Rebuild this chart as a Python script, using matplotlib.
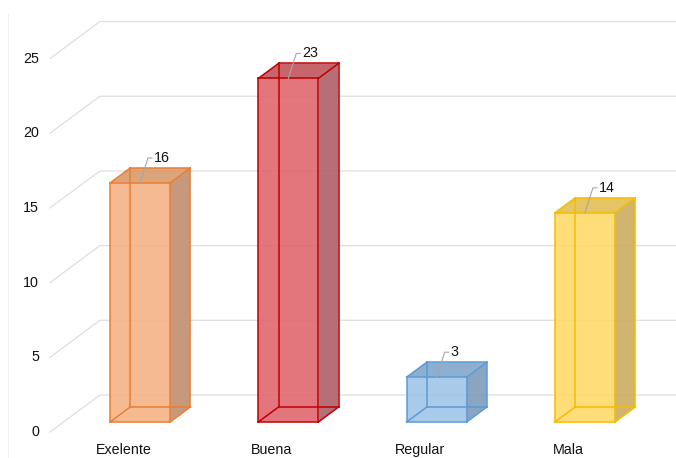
import matplotlib
matplotlib.use("Agg")
import matplotlib.pyplot as plt
from matplotlib.lines import Line2D
from matplotlib.patches import Polygon
from matplotlib.transforms import IdentityTransform

categories = ["Exelente", "Buena", "Regular", "Mala"]
counts = [16, 23, 3, 14]
y_ticks = [0, 5, 10, 15, 20, 25]

face_colors = ["#F4B183", "#E0636B", "#9DC3E6", "#FFD966"]
edge_colors = ["#ED7D31", "#C00000", "#5B9BD5", "#F5BC00"]
side_colors = ["#C29172", "#B0636A", "#7F9DBC", "#CBAF63"]
top_colors = ["#D99C70", "#C3585F", "#85A8CB", "#E2BF57"]

plt.rcParams["font.family"] = ["Liberation Sans", "DejaVu Sans"]

fig = plt.figure(figsize=(6.76, 4.58), dpi=100)
ax = fig.add_axes([0, 0, 1, 1])
ax.set_xlim(-0.944, 3.614)
ax.set_ylim(-2.41, 28.25)
ax.axis("off")

# oblique depth: pixels right per pixel up
SLOPE = 1.35
FLOOR_FRONT = -10
BAR_FRONT = 0
BAR_BACK = 15
WALL_BACK = 27
WALL_X = -0.516
BAR_W = 0.405
PIX = IdentityTransform()


def proj(x, y, d):
    px, py = ax.transData.transform((x, y))
    return (px + SLOPE * d, py + d)


# side wall diagonals + back wall gridlines
grid_color = "#DEDEDE"
for t in y_ticks:
    a = proj(WALL_X, t, FLOOR_FRONT)
    b = proj(WALL_X, t, WALL_BACK)
    c = proj(ax.get_xlim()[1], t, WALL_BACK)
    ax.add_line(Line2D([a[0], b[0], c[0]], [a[1], b[1], c[1]],
                       color=grid_color, lw=0.9, transform=PIX, zorder=1))
    ax.text(a[0] - 11, a[1], str(t), ha="right", va="center",
            fontsize=10.3, color="#111111", transform=PIX)

# faint frame line on the left
fig.add_artist(Line2D([8 / 676, 8 / 676], [0, 0.97], transform=fig.transFigure,
                      color="#F0F0F0", lw=0.8))

for i, (name, v) in enumerate(zip(categories, counts)):
    x0, x1 = i - BAR_W / 2, i + BAR_W / 2
    corners = {}
    for xk, xv in (("l", x0), ("r", x1)):
        for yk, yv in (("b", 0), ("t", v)):
            for dk, dv in (("f", BAR_FRONT), ("k", BAR_BACK)):
                corners[xk + yk + dk] = proj(xv, yv, dv)

    front = [corners[k] for k in ("lbf", "rbf", "rtf", "ltf")]
    side = [corners[k] for k in ("rbf", "rbk", "rtk", "rtf")]
    top = [corners[k] for k in ("ltf", "rtf", "rtk", "ltk")]
    ax.add_patch(Polygon(front, closed=True, fc=face_colors[i], alpha=0.88,
                         ec="none", transform=PIX, zorder=2))
    ax.add_patch(Polygon(side, closed=True, fc=side_colors[i], alpha=0.92,
                         ec="none", transform=PIX, zorder=2))
    ax.add_patch(Polygon(top, closed=True, fc=top_colors[i], alpha=0.92,
                         ec="none", transform=PIX, zorder=2))

    edges = [("lbf", "rbf"), ("rbf", "rtf"), ("rtf", "ltf"), ("ltf", "lbf"),
             ("lbk", "rbk"), ("rbk", "rtk"), ("rtk", "ltk"), ("ltk", "lbk"),
             ("lbf", "lbk"), ("rbf", "rbk"), ("rtf", "rtk"), ("ltf", "ltk")]
    for p, q in edges:
        ax.add_line(Line2D([corners[p][0], corners[q][0]],
                           [corners[p][1], corners[q][1]],
                           color=edge_colors[i], lw=1.1, transform=PIX, zorder=3))

    # value label with leader line
    s = proj(i, v, BAR_FRONT)
    e = (s[0] + 8, s[1] + 25)
    f = (e[0] + 4, e[1])
    ax.add_line(Line2D([s[0], e[0], f[0]], [s[1], e[1], f[1]],
                       color="#A6A6A6", lw=0.8, transform=PIX, zorder=4))
    ax.text(f[0] + 2, f[1], str(v), ha="left", va="center", fontsize=10.3,
            color="#111111", transform=PIX, zorder=5)

    # category label on the floor front edge
    lab = proj(i, 0, FLOOR_FRONT)
    ax.text(lab[0] - 3, lab[1] - 18, name, ha="center", va="center",
            fontsize=10.3, color="#111111", transform=PIX)

fig.savefig("out.png", dpi=100)
